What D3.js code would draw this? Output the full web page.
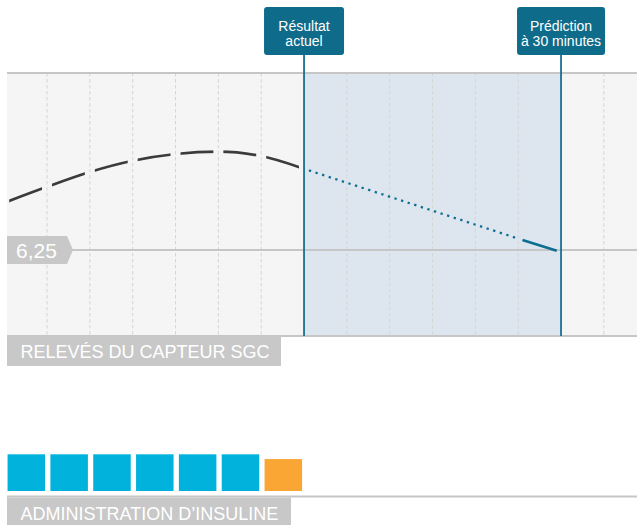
<!DOCTYPE html>
<html>
<head>
<meta charset="utf-8">
<script src="https://cdn.jsdelivr.net/npm/d3@7"></script>
<style>
body { margin: 0; background: #fff; }
svg { display: block; font-family: "Liberation Sans", Arial, Helvetica, sans-serif; }
</style>
</head>
<body>
<svg id="chart" width="637" height="525"></svg>
<script>
// glucose readings (mmol/L), every 5 minutes, 0 = now
var readingTimes = [-35, -30, -25, -20, -15, -10, -5, 0];
var readingValues = [7.43, 7.83, 8.2, 8.48, 8.65, 8.71, 8.6, 8.28];
// prediction
var predTimes = [0, 25.5, 29.5];
var predValues = [8.28, 6.5, 6.23];
var markerTimes = [0, 30];
var markerLabels = [["Résultat", "actuel"], ["Prédiction", "à 30 minutes"]];
var gridTimes = [-30, -25, -20, -15, -10, -5, 5, 10, 15, 20, 25, 35];
var threshold = 6.25;
// insulin
var insulinTimes = [-35, -30, -25, -20, -15, -10, -5];
var insulinDoses = [1, 1, 1, 1, 1, 1, 0.87];
var insulinKinds = ["done", "done", "done", "done", "done", "done", "pending"];
var sectionLabels = ["RELEVÉS DU CAPTEUR SGC", "ADMINISTRATION D’INSULINE"];

var svg = d3.select("#chart");
var plot = { left: 7, right: 637, top: 73, bottom: 336 };
var gray = "#c6c6c6", blue = "#0f6b8a";

var x = d3.scaleLinear().domain([-35, 40]).range([4.2, 646.7]);
var y = d3.scaleLinear().domain([4, 10.5]).range([340, 80]);
var fr = d3.formatLocale({ decimal: ",", thousands: " ", grouping: [3], currency: ["", " €"] });

svg.append("rect")
	.attr("x", plot.left).attr("y", plot.top)
	.attr("width", plot.right - plot.left).attr("height", plot.bottom - plot.top)
	.attr("fill", "#f5f5f5");

// prediction window
svg.append("rect")
	.attr("x", x(markerTimes[0])).attr("y", plot.top)
	.attr("width", x(markerTimes[1]) - x(markerTimes[0]))
	.attr("height", plot.bottom - plot.top)
	.attr("fill", "#dde6ef");

svg.append("g").selectAll("line")
	.data(gridTimes)
	.join("line")
	.attr("x1", function(d) { return x(d); })
	.attr("x2", function(d) { return x(d); })
	.attr("y1", plot.top).attr("y2", plot.bottom)
	.attr("stroke", "#d4d4d4")
	.attr("stroke-width", 1)
	.attr("stroke-dasharray", "3.5,2.5");

svg.append("line")
	.attr("x1", plot.left).attr("x2", plot.right)
	.attr("y1", y(threshold)).attr("y2", y(threshold))
	.attr("stroke", gray).attr("stroke-width", 2);

[plot.top, plot.bottom].forEach(function(yy) {
	svg.append("line")
		.attr("x1", plot.left).attr("x2", plot.right)
		.attr("y1", yy).attr("y2", yy)
		.attr("stroke", gray).attr("stroke-width", 2);
});

// readings: one dash per 5 min interval
var clip = svg.append("clipPath").attr("id", "dashes");
readingTimes.slice(0, -1).forEach(function(t, i) {
	clip.append("rect")
		.attr("x", x(t) + 5).attr("y", 0)
		.attr("width", x(readingTimes[i + 1]) - x(t) - 10)
		.attr("height", 525);
});

var line = d3.line()
	.x(function(d) { return x(d[0]); })
	.y(function(d) { return y(d[1]); });

svg.append("path")
	.datum(d3.zip(readingTimes, readingValues))
	.attr("d", line.curve(d3.curveMonotoneX))
	.attr("clip-path", "url(#dashes)")
	.attr("fill", "none")
	.attr("stroke", "#3b3b3b")
	.attr("stroke-width", 2.7);

var pred = d3.zip(predTimes, predValues);
svg.append("clipPath").attr("id", "dotclip")
	.append("rect")
	.attr("x", 0).attr("y", 0)
	.attr("width", x(predTimes[1]) - 5).attr("height", 525);

line.curve(d3.curveLinear);
svg.append("path")
	.datum(pred.slice(0, 2))
	.attr("d", line)
	.attr("clip-path", "url(#dotclip)")
	.attr("fill", "none")
	.attr("stroke", "#0e6f90")
	.attr("stroke-width", 2.3)
	.attr("stroke-dasharray", "2.3,4.62")
	.attr("stroke-dashoffset", -5.15);

svg.append("path")
	.datum(pred.slice(1))
	.attr("d", line)
	.attr("fill", "none")
	.attr("stroke", "#0e6f90")
	.attr("stroke-width", 2.7);

// markers + callouts
var boxW = [80, 88];
markerTimes.forEach(function(t, i) {
	var cx = x(t);
	svg.append("line")
		.attr("x1", cx).attr("x2", cx)
		.attr("y1", 55).attr("y2", plot.bottom)
		.attr("stroke", "#17708f").attr("stroke-width", 1.8);
	svg.append("rect")
		.attr("x", cx - boxW[i] / 2).attr("y", 7)
		.attr("width", boxW[i]).attr("height", 48)
		.attr("rx", 3)
		.attr("fill", blue);
	svg.append("text")
		.attr("x", cx).attr("y", 31)
		.attr("text-anchor", "middle")
		.attr("fill", "#fff").attr("font-size", "14px")
		.selectAll("tspan")
		.data(markerLabels[i])
		.join("tspan")
		.attr("x", cx)
		.attr("dy", function(d, j) { return j ? 14.5 : 0; })
		.text(function(d) { return d; });
});

// threshold tag
var yt = y(threshold);
svg.append("path")
	.attr("d", "M" + plot.left + "," + (yt - 14) + "L67," + (yt - 14) + "L73," + yt +
		"L67," + (yt + 14) + "L" + plot.left + "," + (yt + 14) + "Z")
	.attr("fill", "#c8c8c8");
svg.append("text")
	.attr("x", 16).attr("y", yt + 8)
	.attr("fill", "#fff").attr("font-size", "21px")
	.text(fr.format(".2f")(threshold));

// insulin
var h = d3.scaleLinear().domain([0, 1]).range([0, 36.7]);
var barW = 37.5, barBase = 491;
svg.append("g").selectAll("rect")
	.data(d3.zip(insulinTimes, insulinDoses, insulinKinds))
	.join("rect")
	.attr("x", function(d) { return x(d[0] + 2.5) + 0.7 - barW / 2; })
	.attr("y", function(d) { return barBase - h(d[1]); })
	.attr("width", barW)
	.attr("height", function(d) { return h(d[1]); })
	.attr("fill", function(d) { return d[2] == "done" ? "#00b2dc" : "#f9a634"; });

svg.append("line")
	.attr("x1", plot.left).attr("x2", plot.right)
	.attr("y1", 496.5).attr("y2", 496.5)
	.attr("stroke", gray).attr("stroke-width", 2);

// section labels
var labelTop = [336, 497.5], labelW = [274, 284];
sectionLabels.forEach(function(s, i) {
	svg.append("rect")
		.attr("x", plot.left).attr("y", labelTop[i])
		.attr("width", labelW[i]).attr("height", 30)
		.attr("fill", "#c8c8c8");
	svg.append("text")
		.attr("x", 20.5).attr("y", labelTop[i] + 22.3)
		.attr("fill", "#fff").attr("font-size", "18px")
		.text(s);
});
</script>
</body>
</html>
